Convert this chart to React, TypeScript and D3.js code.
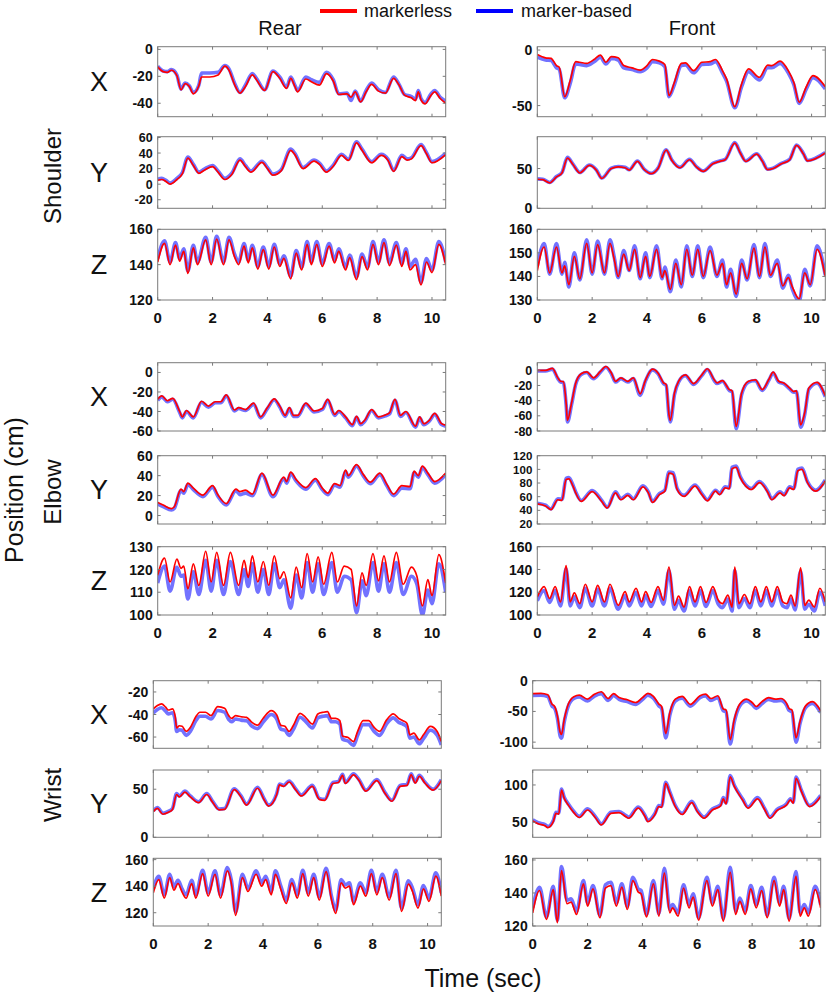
import React from "react";
import * as d3 from "d3";

// ---------------- DATA ----------------
const timeTicks = [0, 2, 4, 6, 8, 10];
const rowNames = ["Shoulder", "Elbow", "Wrist"];
const colNames = ["Rear", "Front"];
const axisNames = ["X", "Y", "Z"];
const legendLabels = ["markerless", "marker-based"];

// Shoulder – Rear
const shRearX_t = [0,0.2,0.35,0.5,0.7,0.85,1.0,1.15,1.3,1.5,1.6,1.9,2.2,2.45,2.6,2.8,3.0,3.2,3.45,3.6,3.9,4.2,4.45,4.7,4.85,5.0,5.1,5.4,5.6,5.9,6.15,6.4,6.6,6.9,7.05,7.2,7.4,7.6,7.8,8.05,8.3,8.6,8.8,9.0,9.25,9.4,9.5,9.6,9.75,9.95,10.1,10.3,10.5];
const shRearX_red = [-13,-16.5,-17,-15.5,-19.5,-30,-25.5,-27.5,-33,-27,-20.5,-20.5,-19,-12.5,-15.5,-26,-32.5,-27.5,-19,-22.5,-30.5,-16.5,-21.5,-29,-21.5,-27.5,-31.5,-22,-24,-26.5,-18,-23.5,-33.5,-33,-35.5,-31.5,-39,-31.5,-26,-31,-32.5,-21.5,-26.5,-34,-36,-38,-31.5,-37.5,-40.5,-34.5,-31.5,-36.5,-40];
const shRearX_blue = [-12.5,-16,-16.5,-15,-19,-29.5,-25,-27,-32,-26.5,-17.5,-17.5,-17,-12,-14.5,-25,-32,-26.5,-18,-21.5,-30,-16,-20.5,-28,-20.5,-26.5,-30.5,-20.5,-22.5,-24.5,-17,-22.5,-33,-32.5,-38,-31,-38.5,-30.5,-25,-30,-32,-20.5,-26,-33.5,-35,-37,-30.5,-36.5,-39.5,-33.5,-30.5,-35.5,-38.5];

const shRearY_t = [0,0.15,0.3,0.45,0.7,0.9,1.1,1.3,1.5,1.7,2.0,2.2,2.45,2.7,3.0,3.2,3.4,3.8,4.0,4.2,4.5,4.85,5.0,5.3,5.7,5.9,6.15,6.4,6.7,6.95,7.25,7.45,7.8,8.15,8.4,8.6,8.9,9.1,9.25,9.6,9.8,10.0,10.5];
const shRearY_red = [5,6,3.5,0,6,13.5,33.5,24,14,18,22.5,15.5,6,12.5,31,22.5,15.5,28,20,11.5,17,43.5,38,20,29.5,25.5,15.5,23,37,30.5,53,43.5,27.5,37,30.5,16.5,35.5,31,32.5,49.5,39,27.5,38];
const shRearY_blue = [6.5,7.5,5,1.5,7.5,15,35,25.5,15.5,19.5,24,17,7.5,14,32.5,24,17,29.5,21.5,13,18.5,45,39.5,21.5,31,27,17,24.5,38.5,32,54.5,45,29,38.5,32,18,37,32.5,34,51,40.5,29,39.5];

const shRearZ_t = [0,0.25,0.45,0.65,0.8,0.95,1.1,1.3,1.45,1.75,1.95,2.15,2.4,2.6,2.8,2.95,3.15,3.3,3.45,3.65,3.85,4.05,4.25,4.45,4.6,4.85,5.05,5.25,5.45,5.6,5.8,6.0,6.25,6.45,6.6,6.85,7.0,7.25,7.45,7.65,7.85,8.05,8.25,8.45,8.7,8.9,9.05,9.2,9.4,9.6,9.8,10.0,10.25,10.5];
const shRearZ_red = [141.5,152,140,151,142,147.5,135,149.5,140,154,140,154.5,140,154,144.5,140,150.5,141,149.5,137.5,148.5,137.5,150,139,143.5,132,146.5,137,151.5,140,151.5,139,150.5,141,147.5,137,144,131.5,144.5,137,151.5,140,152.5,139.5,151,139,147.5,137,140,128.5,141.5,135.5,151.5,140];
const shRearZ_blue = [143.5,153.5,141.5,152.5,143.5,149,136.5,151,141.5,155.5,141.5,156,141.5,155.5,146,141.5,152,142.5,151,139,150,139,151.5,140.5,145,133.5,148,138.5,153,141.5,153,140.5,152,142.5,149,138.5,145.5,133,146,138.5,153,141.5,154,141,152.5,140.5,149,139,143,130,143.5,137,153,141.5];

// Shoulder – Front
const shFrontX_t = [0,0.3,0.5,0.7,0.8,1.0,1.2,1.4,1.55,1.8,2.1,2.3,2.5,2.7,2.95,3.15,3.45,3.75,4.0,4.2,4.45,4.65,4.8,5.0,5.25,5.4,5.7,6.0,6.3,6.5,6.75,6.9,7.2,7.45,7.7,8.1,8.4,8.55,8.85,9.15,9.35,9.55,9.8,10.05,10.5];
const shFrontX_red = [-4,-7,-7.5,-14,-15.5,-42,-27.5,-10.5,-11,-12,-8,-4.5,-11,-6,-7,-14,-16,-18,-14,-8.5,-10,-13,-41,-29,-12,-11.5,-18.5,-11,-10.5,-8.5,-18.5,-26,-51,-30.5,-17,-24.5,-13.5,-14,-10,-18.5,-29,-47,-33.5,-23,-33];
const shFrontX_blue = [-6.5,-9,-9.5,-16,-17.5,-43,-30,-12.5,-13,-14,-10,-6.5,-12.5,-7.5,-9,-16,-17.5,-19.5,-16,-10.5,-11.5,-15,-42,-31,-14,-13.5,-20.5,-13,-12.5,-10.5,-20.5,-28,-52,-33,-19.5,-27,-16,-16,-12,-20.5,-31,-48,-35.5,-25,-35];

const shFrontY_t = [0,0.2,0.45,0.7,0.9,1.1,1.3,1.55,1.9,2.15,2.35,2.7,2.95,3.2,3.35,3.65,3.9,4.15,4.4,4.7,4.9,5.2,5.55,5.8,6.05,6.4,6.65,6.85,7.2,7.4,7.6,8.0,8.2,8.4,8.6,8.9,9.2,9.45,9.7,9.85,10.5];
const shFrontY_red = [36.5,36,32,39.5,44.5,63,55,44.5,54,48,37.5,50,52,51,48,59,48.5,43.5,50,73,60.5,51,61,52,46.5,56,59,61,82,69.5,59,68,59.5,48.5,50,56,61,79,68.5,59.5,69.5];
const shFrontY_blue = [37,36.5,32.5,40,45,64,55.5,45,54.5,48.5,38,50.5,52.5,51.5,48.5,59.5,49,44,50.5,73.5,61,51.5,61.5,52.5,47,56.5,59.5,61.5,82.5,70,59.5,68.5,60,49,50.5,56.5,61.5,79.5,69,60,70];

const shFrontZ_t = [0,0.25,0.45,0.7,0.9,1.0,1.15,1.35,1.55,1.8,2.0,2.2,2.45,2.65,2.8,2.95,3.15,3.35,3.55,3.75,3.95,4.1,4.35,4.55,4.65,4.85,5.05,5.25,5.45,5.65,5.85,6.05,6.3,6.55,6.75,6.9,7.05,7.25,7.45,7.65,7.9,8.1,8.3,8.5,8.75,8.95,9.15,9.3,9.55,9.75,9.95,10.2,10.5];
const shFrontZ_red = [142.5,152.5,141.5,152.5,141.5,144.5,136.5,148.5,139,154,141.5,153.5,141.5,154,147.5,140,149.5,142.5,151.5,139.5,148.5,140,151.5,139.5,142.5,134.5,145.5,136.5,151.5,140.5,151.5,140,151,140.5,145.5,136.5,141.5,132.5,145.5,139,152,140,152.5,140.5,145.5,136,139.5,135.5,130.5,141.5,136.5,151.5,140];
const shFrontZ_blue = [144.5,154,141,154,141,146,135.5,150,138.5,155.5,141,155,141,155.5,148.5,139.5,151,142.5,153,139,150,139.5,153,139,144,133.5,147,135.5,153,140,153,139.5,152.5,140,147,135.5,143,131.5,147,138.5,153.5,139.5,154,140,147,135,140.5,134.5,129.5,143,136,153,140.5];

// Elbow – Rear
const elRearX_t = [0,0.15,0.35,0.55,0.8,0.9,1.05,1.3,1.6,1.85,2.1,2.3,2.5,2.8,2.95,3.2,3.5,3.75,4.0,4.25,4.45,4.65,4.8,4.95,5.1,5.4,5.7,6.0,6.2,6.45,6.6,6.85,7.1,7.25,7.4,7.55,7.8,8.05,8.3,8.45,8.65,8.85,9.05,9.4,9.55,9.7,9.9,10.1,10.35,10.5];
const elRearX_red = [-27.5,-24,-29,-26.5,-40,-45.5,-39,-45.5,-29.5,-34.5,-30,-30,-23,-38.5,-36,-38,-31.5,-45.5,-36,-27,-34.5,-44,-36,-44,-44,-31.5,-39.5,-37,-27.5,-43,-39,-45.5,-53.5,-45,-52.5,-49,-38,-45.5,-43.5,-41.5,-27.5,-44,-40,-55,-45.5,-52.5,-49,-42,-52.5,-54];
const elRearX_blue = [-28.5,-25,-30,-27.5,-41,-46.5,-40,-46.5,-30.5,-35.5,-31,-31,-24,-39.5,-37,-39,-32.5,-46.5,-37,-28,-35.5,-45,-37,-45,-45,-32.5,-40.5,-38,-28.5,-44,-40,-46.5,-54.5,-46,-53.5,-50,-39,-46.5,-44.5,-42.5,-28.5,-45,-41,-56,-46.5,-53.5,-50,-43,-53.5,-55];

const elRearY_t = [0,0.2,0.5,0.6,0.85,0.95,1.1,1.3,1.65,2.0,2.2,2.5,2.85,3.0,3.2,3.45,3.8,4.2,4.6,4.7,4.85,5.05,5.4,5.75,6.0,6.2,6.45,6.65,6.85,6.95,7.25,7.5,7.75,8.1,8.35,8.6,8.9,9.2,9.35,9.5,9.65,9.85,10.1,10.5];
const elRearY_red = [13,10.5,7,8.5,26.5,24,32.5,27.5,20.5,30,20.5,12,26.5,24,25.5,21.5,42.5,20.5,38.5,34,43.5,36,28,37,27.5,22.5,32,30,45.5,40,51,41,33.5,42.5,31.5,21.5,30,29,44.5,40,49.5,42.5,34,42.5];
const elRearY_blue = [11.5,9,5.5,7,25,22.5,31,26,19,28.5,19,10.5,25,21,22.5,20,41,19,37,32.5,42,34.5,26.5,35.5,26,21,30.5,28.5,44,38.5,49.5,39.5,32,41,30,20,27.5,27,43,38.5,48,41,32.5,41];

const elRearZ_t = [0,0.25,0.45,0.7,0.85,0.95,1.1,1.3,1.5,1.75,1.95,2.15,2.4,2.65,2.95,3.15,3.3,3.45,3.65,3.85,4.05,4.25,4.45,4.6,4.85,5.05,5.25,5.45,5.65,5.85,6.05,6.35,6.55,6.8,7.05,7.25,7.45,7.6,7.85,8.05,8.25,8.45,8.7,8.95,9.25,9.45,9.65,9.85,10.0,10.25,10.5];
const elRearZ_red = [117.5,125,114.5,124.5,120.5,121.5,111.5,122.5,113,128,114.5,127.5,113,127.5,113,124,116.5,126,114.5,123.5,113,126,116,119,107.5,121,112,127,114.5,125.5,113.5,127.5,114.5,121.5,120,104,118.5,113,127,115,126,114.5,127.5,113.5,121,117,104,115.5,108.5,126.5,114];
const elRearZ_blue = [114,121.5,110.5,121,117,117.5,107,119,109,124,110.5,124,109,123.5,109,120,112.5,122.5,110,120,109,122.5,112,115.5,103,117.5,107.5,123,110,122.5,109,123,110,117,115.5,101,115,108.5,123,110.5,122.5,110,123,109,117,113.5,100,111,105,122.5,110];

// Elbow – Front
const elFrontX_t = [0,0.3,0.55,0.75,0.85,0.95,1.05,1.1,1.25,1.4,1.6,1.8,2.05,2.3,2.5,2.7,2.85,3.05,3.3,3.5,3.75,3.95,4.2,4.4,4.6,4.7,4.8,4.85,5.0,5.15,5.4,5.7,6.0,6.2,6.45,6.55,6.75,7.0,7.1,7.25,7.45,7.7,7.95,8.2,8.45,8.6,8.8,9.0,9.2,9.35,9.45,9.6,9.75,9.9,10.2,10.5];
const elFrontX_red = [0,0,2.5,-10,-14.5,-15,-43,-66,-43,-17,-4.5,-2,-10,-1.5,5,-3.5,-14.5,-10,-14.5,-10,-31,-12.5,1.5,-3.5,-16.5,-19,-58,-66,-30,-14.5,-6,-17.5,-6,2,-12.5,-16.5,-13.5,-25.5,-27,-74,-30,-14.5,-12.5,-25.5,-11.5,-2.5,-14.5,-17,-23.5,-28,-27,-72,-56,-23.5,-16,-33.5];
const elFrontX_blue = [-1,-1,1.5,-11,-15.5,-16,-45,-68,-45,-18.5,-5.5,-3,-11,-2.5,4,-4.5,-15.5,-11,-15.5,-11,-33,-13.5,0.5,-4.5,-17.5,-20,-60,-68,-32,-15.5,-7,-18.5,-7,1,-13.5,-17.5,-14.5,-26.5,-28,-77,-32,-15.5,-13.5,-26.5,-12.5,-3.5,-15.5,-18,-24.5,-29,-28,-75,-58,-25,-17,-35];

const elFrontY_t = [0,0.3,0.5,0.75,0.9,1.05,1.15,1.3,1.4,1.6,2.0,2.35,2.55,2.85,3.05,3.3,3.5,3.85,4.05,4.2,4.45,4.65,4.8,4.95,5.1,5.35,5.75,6.0,6.2,6.5,6.65,6.85,7.0,7.1,7.25,7.4,7.6,7.8,8.1,8.4,8.55,8.85,9.0,9.2,9.35,9.5,9.65,9.85,10.15,10.5];
const elFrontY_red = [49.5,46.5,41,55.5,54.5,85,86,75.5,65.5,53,67.5,53,43.5,65.5,55.5,62,55.5,74.5,65.5,51.5,63,68,94.5,93,70.5,60.5,75.5,63,54,68,63,73,71.5,101,103,88,75.5,70.5,80.5,66.5,55.5,65.5,61.5,73,70.5,98,100,80.5,68,83];
const elFrontY_blue = [50.5,47.5,42,57,56,87,88,77,67,54.5,69,54.5,44.5,67,57,63.5,57,76,67,53,64.5,69.5,96,95,72,62,77,64.5,55.5,69.5,64.5,74.5,73,103,105,89.5,77,72,82,68,57,67,63,74.5,72,100,102,82,69.5,84.5];

const elFrontZ_t = [0,0.25,0.45,0.65,0.85,1.05,1.2,1.35,1.55,1.75,2.0,2.2,2.45,2.65,2.95,3.2,3.35,3.6,3.8,3.95,4.15,4.4,4.6,4.8,5.0,5.15,5.35,5.55,5.75,5.95,6.15,6.4,6.6,6.75,6.95,7.1,7.2,7.35,7.55,7.75,7.95,8.15,8.35,8.55,8.75,8.95,9.1,9.25,9.4,9.6,9.75,9.9,10.1,10.3,10.5];
const elFrontZ_red = [116,125,114.5,125,111.5,143.5,111.5,119.5,110,127,111.5,126,111.5,127,108.5,120.5,111.5,123.5,111.5,120.5,111,125,113,142,108.5,116.5,107,125,111.5,125,111,125,113,110,117.5,107,142,110,118,110,125,111.5,125,111.5,125,111.5,110,117.5,108,141.5,108.5,113,107,123.5,111.5];
const elFrontZ_blue = [112.5,121.5,111,121.5,108,140.5,108,116,106.5,123.5,108,122.5,108,123.5,105,117,108,120,108,117,107.5,121.5,109.5,139,105,113,103.5,121.5,108,121.5,107.5,121.5,109.5,106.5,114,103.5,139,106.5,114.5,106.5,121.5,108,121.5,108,121.5,108,106.5,114,104.5,138.5,105,109.5,103.5,120,108];

// Wrist – Rear
const wrRearX_t = [0,0.15,0.3,0.45,0.55,0.7,0.8,0.85,0.95,1.05,1.2,1.35,1.55,1.7,1.9,2.1,2.35,2.6,2.75,2.85,3.0,3.2,3.4,3.6,3.8,4.0,4.3,4.5,4.65,4.8,4.95,5.1,5.35,5.55,5.8,6.0,6.2,6.35,6.5,6.65,6.8,6.9,7.1,7.3,7.45,7.65,7.85,8.05,8.25,8.5,8.75,8.95,9.1,9.25,9.35,9.5,9.7,9.85,10.1,10.35,10.5];
const wrRearX_red = [-35,-32,-30.5,-33.5,-36,-35,-42,-52,-50,-50.5,-55,-51.5,-42,-38,-38,-41,-33,-34.5,-41,-43.5,-41,-42,-42.5,-47,-49.5,-43.5,-36.5,-40.5,-49.5,-50.5,-55,-50,-39,-42.5,-48.5,-39.5,-38,-37.5,-43.5,-43.5,-45.5,-59,-60.5,-64,-55,-45.5,-45.5,-51.5,-55,-45,-39.5,-43.5,-45.5,-48,-58,-56.5,-62.5,-58,-50.5,-55,-64];
const wrRearX_blue = [-38.5,-35.5,-34,-37,-39.5,-38.5,-45.5,-55,-53.5,-54,-58.5,-55,-45.5,-41.5,-41.5,-44,-36.5,-38,-44.5,-46.5,-44,-45,-45.5,-50.5,-52.5,-47,-40,-44,-53,-54,-58.5,-53.5,-42.5,-46,-52,-43,-41.5,-41,-46.5,-46.5,-48.5,-62,-63.5,-67.5,-58.5,-49,-49,-55,-58.5,-48.5,-43,-47,-48.5,-51,-61,-60,-66,-61.5,-54,-58.5,-67];

const wrRearY_t = [0,0.15,0.35,0.55,0.7,0.85,0.95,1.15,1.35,1.65,1.95,2.15,2.4,2.6,2.95,3.2,3.4,3.8,4.05,4.2,4.5,4.6,4.75,4.95,5.2,5.4,5.8,6.05,6.25,6.55,6.75,6.9,7.0,7.3,7.5,7.75,8.15,8.45,8.7,9.0,9.25,9.4,9.55,9.7,9.9,10.2,10.5];
const wrRearY_red = [26.5,30,24,26,29,44.5,42,47,42,36,44.5,37,28.5,29,49.5,42,33.5,51,38.5,32.5,44.5,54.5,53,57.5,49,43,53,39.5,38.5,56,57,64.5,56,65,59,48,59,45.5,37.5,53,54,65,56.5,63.5,56.5,49,59];
const wrRearY_blue = [27.5,31,25,27,30,45.5,43,48,43,37,45.5,38,29.5,30,50.5,43,34.5,52,39.5,33.5,45.5,55.5,54,58.5,50,44,54,40.5,39.5,57,58,65.5,57,66,60,49,60,46.5,38.5,54,55,66,57.5,64.5,57.5,50,60];

const wrRearZ_t = [0,0.2,0.4,0.6,0.75,0.9,1.05,1.2,1.4,1.55,1.8,2.0,2.25,2.45,2.7,2.85,3.0,3.25,3.45,3.75,3.95,4.1,4.3,4.45,4.65,4.85,5.05,5.25,5.45,5.65,5.85,6.05,6.3,6.5,6.65,6.85,7.0,7.15,7.3,7.55,7.75,7.95,8.15,8.35,8.6,8.85,9.05,9.3,9.45,9.65,9.85,10.05,10.3,10.5];
const wrRearZ_red = [135,145,131,146.5,137,142,135.5,131,142,131,149.5,132.5,149,131,151.5,141.5,118,146.5,136,149,140,145,133.5,149,137.5,127,142.5,131,149.5,132.5,146.5,129.5,151,129.5,119.5,142.5,138.5,140,126,140,132.5,149.5,133.5,146.5,129.5,149.5,121,141.5,136,123.5,138,128.5,147.5,132.5];
const wrRearZ_blue = [138,147.5,133.5,149,139.5,144.5,138,133.5,144.5,133.5,152,135,151.5,133.5,154,144,120.5,149,138.5,151.5,142.5,147.5,136,151.5,140,129.5,145,133.5,152,135,149,132,153.5,132,122,145,141,142.5,128.5,142.5,135,152,136,149,132,152,123.5,144,138.5,126,140.5,131,150,135];

// Wrist – Front
const wrFrontX_t = [0,0.3,0.55,0.7,0.8,0.9,1.0,1.05,1.15,1.3,1.5,1.7,2.0,2.25,2.5,2.75,2.95,3.15,3.45,3.75,4.0,4.2,4.4,4.6,4.7,4.85,5.0,5.2,5.45,5.75,6.1,6.3,6.5,6.75,6.95,7.05,7.2,7.35,7.55,7.8,8.0,8.15,8.35,8.6,8.85,9.05,9.25,9.35,9.45,9.6,9.75,9.95,10.2,10.5];
const wrFrontX_red = [-21,-20.5,-23,-38,-42,-57,-84,-87.5,-63,-38,-26,-23.5,-30,-22,-18,-29,-21,-27.5,-31,-35.5,-27.5,-20.5,-25.5,-38,-42,-86,-52,-30,-25.5,-38.5,-24.5,-22,-29,-24.5,-46,-47.5,-96,-63,-38,-30,-35.5,-42,-34.5,-27.5,-30,-29,-36.5,-45.5,-47.5,-93,-65.5,-41,-34,-49];
const wrFrontX_blue = [-24,-23.5,-26,-41,-45,-61,-90,-93.5,-67,-41,-29,-26.5,-33,-25,-21,-32,-24,-30.5,-34,-38.5,-30.5,-23.5,-28.5,-41,-45,-93,-56,-33,-28.5,-41.5,-27.5,-25,-32,-27.5,-49,-50.5,-103,-67,-41,-33,-38.5,-45,-37.5,-30.5,-33,-32,-39.5,-48.5,-50.5,-100,-69,-44,-37,-52];

const wrFrontY_t = [0,0.2,0.45,0.55,0.75,0.85,0.95,1.05,1.15,1.3,1.5,1.7,2.0,2.3,2.5,2.85,3.15,3.4,3.5,3.85,4.1,4.2,4.45,4.6,4.7,4.85,5.0,5.2,5.45,5.8,6.0,6.25,6.55,6.85,6.95,7.05,7.2,7.35,7.65,7.85,8.2,8.45,8.65,8.9,9.25,9.4,9.5,9.6,9.8,10.1,10.5];
const wrFrontY_red = [52,48,45.5,43,51,62,61,93,82,73,63,56.5,66.5,55.5,46.5,62,63,57.5,55.5,69,57.5,51,60,71,70,102,89,71,60.5,76.5,64.5,55.5,66.5,72,81.5,74.5,111,98,80,69,81.5,67.5,55.5,65.5,73,80,75.5,109,91,71,84.5];
const wrFrontY_blue = [53.5,49.5,47,44.5,52.5,63.5,62.5,94.5,83.5,74.5,64.5,58,68,57,48,63.5,64.5,59,57,70.5,59,52.5,61.5,72.5,71.5,103.5,90.5,72.5,62,78,66,57,68,73.5,83,76,112.5,99.5,81.5,70.5,83,69,57,67,74.5,81.5,77,110.5,92.5,72.5,86];

const wrFrontZ_t = [0,0.25,0.5,0.75,0.9,1.05,1.25,1.4,1.6,1.85,2.0,2.2,2.45,2.65,2.85,3.05,3.25,3.45,3.65,3.85,3.95,4.15,4.4,4.6,4.8,5.0,5.1,5.3,5.5,5.7,5.85,6.05,6.35,6.55,6.75,6.95,7.2,7.4,7.55,7.75,7.95,8.15,8.35,8.55,8.8,9.0,9.15,9.35,9.6,9.75,9.9,10.05,10.3,10.5];
const wrFrontZ_red = [128,141.5,124,142,122,153.5,133.5,134.5,127,145.5,132,142.5,125,143,144.5,132,143.5,130,147.5,140.5,139.5,125.5,145.5,126,152,128,131,126,143,131,137.5,123.5,147.5,132,142,123,152.5,127,135,127,142.5,131,141.5,125,147.5,132,142,123,150,126,131,126,142,131];
const wrFrontZ_blue = [131,143.5,125.5,144,123.5,156,135.5,136.5,129,147.5,134,144.5,126.5,145,146.5,134,145.5,132,149.5,142.5,141.5,127,147.5,127.5,155,130,133,128,145,133,139.5,125,149.5,134,144,124.5,155.5,129,137,129,144.5,133,143.5,126.5,149.5,134,144,124.5,153,128,133,128,144,133];

// y-axis ranges and tick labels per panel [row][col][axis]
const yDomains = [
  [[[-50, 2], [-31, 61], [120, 160]], [[-60, 3], [0, 90], [130, 160]]],
  [[[-60, 10], [-8.5, 60], [100, 130]], [[-80, 10], [20, 120], [100, 160]]],
  [[[-70, -10], [0, 70], [110, 161]], [[-110, 0], [30, 120], [120, 161]]],
];
const yTicks = [
  [[[0, -20, -40], [60, 40, 20, 0, -20], [160, 140, 120]], [[0, -50], [50, 0], [160, 150, 140, 130]]],
  [[[0, -20, -40, -60], [60, 40, 20, 0], [130, 120, 110, 100]], [[0, -20, -40, -60, -80], [120, 100, 80, 60, 40, 20], [160, 140, 120, 100]]],
  [[[-20, -40, -60], [50, 0], [160, 140, 120]], [[0, -50, -100], [100, 50], [160, 140, 120]]],
];

const series = [
  [
    [[shRearX_t, shRearX_red, shRearX_blue], [shRearY_t, shRearY_red, shRearY_blue], [shRearZ_t, shRearZ_red, shRearZ_blue]],
    [[shFrontX_t, shFrontX_red, shFrontX_blue], [shFrontY_t, shFrontY_red, shFrontY_blue], [shFrontZ_t, shFrontZ_red, shFrontZ_blue]],
  ],
  [
    [[elRearX_t, elRearX_red, elRearX_blue], [elRearY_t, elRearY_red, elRearY_blue], [elRearZ_t, elRearZ_red, elRearZ_blue]],
    [[elFrontX_t, elFrontX_red, elFrontX_blue], [elFrontY_t, elFrontY_red, elFrontY_blue], [elFrontZ_t, elFrontZ_red, elFrontZ_blue]],
  ],
  [
    [[wrRearX_t, wrRearX_red, wrRearX_blue], [wrRearY_t, wrRearY_red, wrRearY_blue], [wrRearZ_t, wrRearZ_red, wrRearZ_blue]],
    [[wrFrontX_t, wrFrontX_red, wrFrontX_blue], [wrFrontY_t, wrFrontY_red, wrFrontY_blue], [wrFrontZ_t, wrFrontZ_red, wrFrontZ_blue]],
  ],
];

// ---------------- LAYOUT ----------------
const W = 829;
const H = 995;
const PANEL_W = 288;
const colLeft = [
  [157.7, 537.3],
  [157.7, 537.3],
  [153.3, 532.7],
];
const panelBox = [
  [[46.7, 116.7], [136.7, 208.3], [229.3, 300]],
  [[362.7, 431], [455.7, 524], [546.7, 615]],
  [[680.7, 748.3], [770, 837.3], [858.3, 926]],
];
const RED = "#ff0000";
const BLUE_LINE = "#7272ff";
const AXIS = "#7a7a7a";
const FONT = "'Liberation Sans', Arial, sans-serif";

function Panel({ r, c, a }: { r: number; c: number; a: number }) {
  const left = colLeft[r][c];
  const [top, bottom] = panelBox[r][a];
  const x = d3.scaleLinear().domain([0, 10.5]).range([left, left + PANEL_W]);
  const y = d3.scaleLinear().domain(yDomains[r][c][a]).range([bottom, top]);
  const [t, red, blue] = series[r][c][a];
  const ticks = yTicks[r][c][a];
  const spacing = ticks.length > 1 ? Math.abs(y(ticks[0]) - y(ticks[1])) : 100;
  const tickFont = spacing < 14.5 ? 11.5 : spacing < 16 ? 12.5 : 14;
  const mk = (vals: number[]) =>
    d3
      .line<number>()
      .x((_, i) => x(t[i]))
      .y((d) => y(d))
      .curve(d3.curveMonotoneX)(vals) || "";
  const clipId = `clip-${r}-${c}-${a}`;
  const tl = 3;
  return (
    <g>
      <defs>
        <clipPath id={clipId}>
          <rect x={left} y={top} width={PANEL_W} height={bottom - top} />
        </clipPath>
      </defs>
      <rect x={left} y={top} width={PANEL_W} height={bottom - top} fill="#fff" />
      <g clipPath={`url(#${clipId})`}>
        <path d={mk(blue)} fill="none" stroke={BLUE_LINE} strokeWidth={3.6} strokeLinejoin="round" />
        <path d={mk(red)} fill="none" stroke={RED} strokeWidth={1.7} strokeLinejoin="round" />
      </g>
      {timeTicks.map((tt) => (
        <g key={"xt" + tt}>
          <line x1={x(tt)} x2={x(tt)} y1={bottom} y2={bottom - tl} stroke={AXIS} />
          <line x1={x(tt)} x2={x(tt)} y1={top} y2={top + tl} stroke={AXIS} />
        </g>
      ))}
      {ticks.map((v) => (
        <g key={"yt" + v}>
          <line x1={left} x2={left + tl} y1={y(v)} y2={y(v)} stroke={AXIS} />
          <line x1={left + PANEL_W} x2={left + PANEL_W - tl} y1={y(v)} y2={y(v)} stroke={AXIS} />
          <text
            x={left - 5}
            y={y(v) + tickFont * 0.36}
            textAnchor="end"
            fontFamily={FONT}
            fontWeight="bold"
            fontSize={tickFont}
            fill="#111"
          >
            {v}
          </text>
        </g>
      ))}
      <rect x={left} y={top} width={PANEL_W} height={bottom - top} fill="none" stroke={AXIS} strokeWidth={1} />
      {a === 2 &&
        timeTicks.map((tt) => (
          <text
            key={"xl" + tt}
            x={x(tt)}
            y={bottom + 22.5}
            textAnchor="middle"
            fontFamily={FONT}
            fontWeight="bold"
            fontSize={15}
            fill="#111"
          >
            {tt}
          </text>
        ))}
      {c === 0 && (
        <text
          x={99}
          y={(top + bottom) / 2 + 9.5}
          textAnchor="middle"
          fontFamily={FONT}
          fontSize={27}
          fill="#111"
        >
          {axisNames[a]}
        </text>
      )}
    </g>
  );
}

export default function App() {
  const rowLabelY = [176, 492, 795];
  return (
    <svg
      width={W}
      height={H}
      viewBox={`0 0 ${W} ${H}`}
      style={{ position: "absolute", left: 0, top: 0, background: "#fff" }}
    >
      <rect x={0} y={0} width={W} height={H} fill="#fff" />
      {/* legend */}
      <line x1={320} x2={357} y1={11} y2={11} stroke={RED} strokeWidth={4} />
      <text x={364} y={17} fontFamily={FONT} fontSize={18} fill="#111">
        {legendLabels[0]}
      </text>
      <line x1={476} x2={513} y1={11} y2={11} stroke="#0000ff" strokeWidth={4} />
      <text x={521} y={17} fontFamily={FONT} fontSize={18} fill="#111">
        {legendLabels[1]}
      </text>
      {/* column titles */}
      <text x={280} y={35} textAnchor="middle" fontFamily={FONT} fontSize={20} fill="#111">
        {colNames[0]}
      </text>
      <text x={692} y={35} textAnchor="middle" fontFamily={FONT} fontSize={20} fill="#111">
        {colNames[1]}
      </text>
      {/* row labels */}
      {rowNames.map((n, i) => (
        <text
          key={n}
          transform={`translate(61,${rowLabelY[i]}) rotate(-90)`}
          textAnchor="middle"
          fontFamily={FONT}
          fontSize={24}
          fill="#111"
        >
          {n}
        </text>
      ))}
      <text
        transform={`translate(23,490) rotate(-90)`}
        textAnchor="middle"
        fontFamily={FONT}
        fontSize={25}
        fill="#111"
      >
        Position (cm)
      </text>
      <text x={483} y={987} textAnchor="middle" fontFamily={FONT} fontSize={25} fill="#111">
        Time (sec)
      </text>
      {[0, 1, 2].map((r) =>
        [0, 1].map((c) => [0, 1, 2].map((a) => <Panel key={`${r}${c}${a}`} r={r} c={c} a={a} />))
      )}
    </svg>
  );
}
